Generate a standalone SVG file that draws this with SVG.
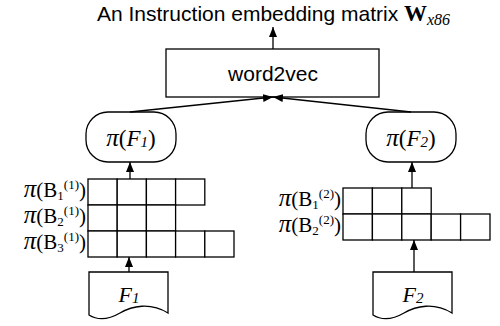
<svg xmlns="http://www.w3.org/2000/svg" width="500" height="326" viewBox="0 0 500 326">
<defs>
<style>
.box{fill:#fff;stroke:#000;stroke-width:1.3}
.cell{fill:#fff;stroke:#000;stroke-width:1.3}
.con{stroke:#000;stroke-width:1.3;fill:none}
.sans{font-family:"Liberation Sans",Arial,sans-serif;fill:#000}
.serif{font-family:"Liberation Serif","Times New Roman",serif;fill:#000}
.lbl{font-family:"Liberation Serif","Times New Roman",serif;font-size:21px;fill:#000}
.pi{font-style:italic;font-size:25px}
.sm{font-size:13px}
.it{font-style:italic}
</style>
<marker id="ah" markerWidth="10" markerHeight="8" refX="10" refY="4" orient="auto" markerUnits="userSpaceOnUse">
<path d="M0,0 L10,4 L0,8 Z" fill="#000"/>
</marker>
</defs>
<rect width="500" height="326" fill="#fff"/>

<g id="title">
<text x="97" y="21" class="sans" font-size="21">An Instruction embedding matrix <tspan class="serif" font-weight="bold" font-size="23">W</tspan><tspan class="serif it" font-size="16" dy="4">x86</tspan></text>
</g>

<g id="word2vec">
<rect class="box" x="166" y="49" width="213" height="48"/>
<text x="273" y="81" class="sans" font-size="21" text-anchor="middle">word2vec</text>
</g>

<g id="piF1">
<rect class="box" x="86" y="112" width="90" height="50" rx="22" ry="22"/>
<text x="131" y="146" class="serif" font-size="23" text-anchor="middle"><tspan class="pi">π</tspan>(<tspan class="it">F</tspan><tspan class="it" font-size="15" dy="1">1</tspan><tspan dy="-1">)</tspan></text>
</g>

<g id="piF2">
<rect class="box" x="366" y="112" width="90" height="50" rx="22" ry="22"/>
<text x="411" y="146" class="serif" font-size="23" text-anchor="middle"><tspan class="pi">π</tspan>(<tspan class="it">F</tspan><tspan class="it" font-size="15" dy="1">2</tspan><tspan dy="-1">)</tspan></text>
</g>

<g id="grid1">
<rect class="cell" x="88" y="179" width="29.2" height="26"/>
<rect class="cell" x="117.2" y="179" width="29.2" height="26"/>
<rect class="cell" x="146.4" y="179" width="29.2" height="26"/>
<rect class="cell" x="175.6" y="179" width="29.2" height="26"/>
<rect class="cell" x="88" y="205" width="29.2" height="26"/>
<rect class="cell" x="117.2" y="205" width="29.2" height="26"/>
<rect class="cell" x="146.4" y="205" width="29.2" height="26"/>
<rect class="cell" x="88" y="231" width="29.2" height="26"/>
<rect class="cell" x="117.2" y="231" width="29.2" height="26"/>
<rect class="cell" x="146.4" y="231" width="29.2" height="26"/>
<rect class="cell" x="175.6" y="231" width="29.2" height="26"/>
<rect class="cell" x="204.8" y="231" width="29.2" height="26"/>
<text x="86" y="197" class="lbl" text-anchor="end"><tspan class="pi">π</tspan>(B<tspan class="sm" dy="3">1</tspan><tspan class="sm" dy="-11">(1)</tspan><tspan dy="8">)</tspan></text>
<text x="86" y="223" class="lbl" text-anchor="end"><tspan class="pi">π</tspan>(B<tspan class="sm" dy="3">2</tspan><tspan class="sm" dy="-11">(1)</tspan><tspan dy="8">)</tspan></text>
<text x="86" y="249" class="lbl" text-anchor="end"><tspan class="pi">π</tspan>(B<tspan class="sm" dy="3">3</tspan><tspan class="sm" dy="-11">(1)</tspan><tspan dy="8">)</tspan></text>
</g>

<g id="grid2">
<rect class="cell" x="343" y="188" width="29.4" height="26"/>
<rect class="cell" x="372.4" y="188" width="29.4" height="26"/>
<rect class="cell" x="401.8" y="188" width="29.4" height="26"/>
<rect class="cell" x="343" y="214" width="29.4" height="26"/>
<rect class="cell" x="372.4" y="214" width="29.4" height="26"/>
<rect class="cell" x="401.8" y="214" width="29.4" height="26"/>
<rect class="cell" x="431.2" y="214" width="29.4" height="26"/>
<rect class="cell" x="460.6" y="214" width="29.4" height="26"/>
<text x="341" y="206" class="lbl" text-anchor="end"><tspan class="pi">π</tspan>(B<tspan class="sm" dy="3">1</tspan><tspan class="sm" dy="-11">(2)</tspan><tspan dy="8">)</tspan></text>
<text x="341" y="232" class="lbl" text-anchor="end"><tspan class="pi">π</tspan>(B<tspan class="sm" dy="3">2</tspan><tspan class="sm" dy="-11">(2)</tspan><tspan dy="8">)</tspan></text>
</g>

<g id="docF1">
<path class="box" d="M89,272 H168 V313 C150,302 132,306 120,313 C108,320 97,320 89,315 Z"/>
<text x="129" y="302" class="serif it" font-size="22" text-anchor="middle">F<tspan font-size="15" dy="1">1</tspan></text>
</g>

<g id="docF2">
<path class="box" d="M373,272 H452 V313 C434,302 416,306 404,313 C392,320 381,320 373,315 Z"/>
<text x="413" y="302" class="serif it" font-size="22" text-anchor="middle">F<tspan font-size="15" dy="1">2</tspan></text>
</g>

<g id="connectors">
<line class="con" x1="273" y1="49" x2="273" y2="27" marker-end="url(#ah)"/>
<line class="con" x1="130" y1="112" x2="273" y2="97" marker-end="url(#ah)"/>
<line class="con" x1="411" y1="112" x2="273" y2="97" marker-end="url(#ah)"/>
<line class="con" x1="130" y1="179" x2="130" y2="162" marker-end="url(#ah)"/>
<line class="con" x1="412" y1="188" x2="412" y2="162" marker-end="url(#ah)"/>
<line class="con" x1="129" y1="272" x2="129" y2="257" marker-end="url(#ah)"/>
<line class="con" x1="414" y1="272" x2="414" y2="240" marker-end="url(#ah)"/>
</g>
</svg>
